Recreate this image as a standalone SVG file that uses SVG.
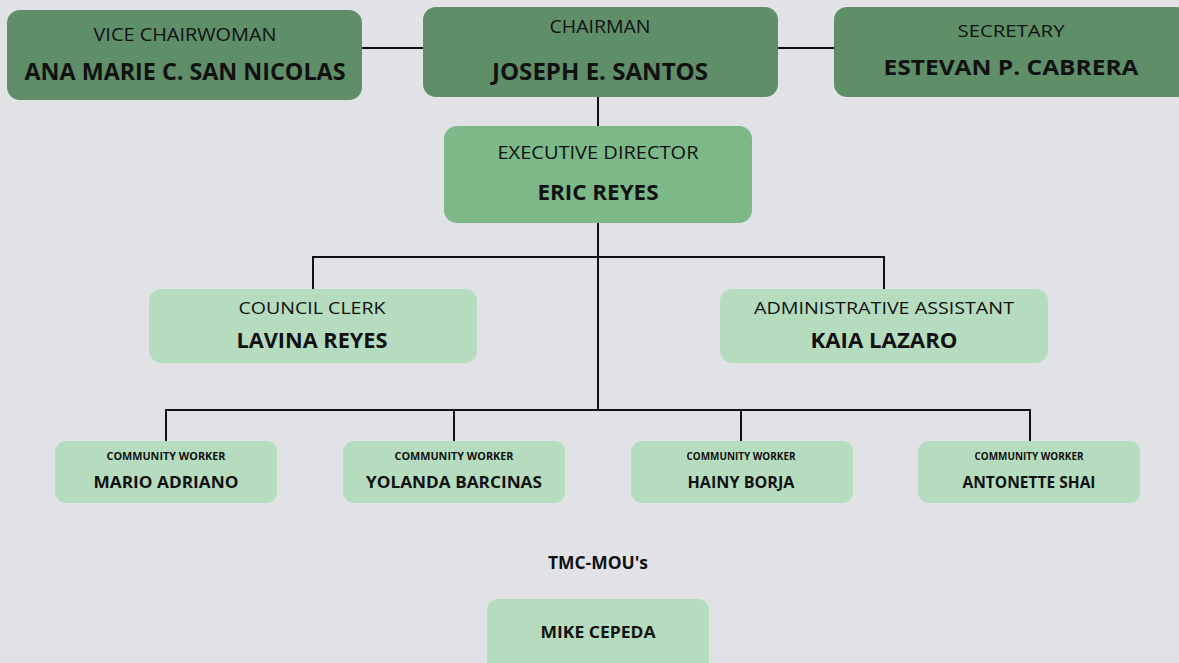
<svg xmlns="http://www.w3.org/2000/svg" width="1179" height="663" viewBox="0 0 1179 663">
<style>
.bg{fill:#e1e2e6}
.dark{fill:#5f8f69}
.mid{fill:#7db889}
.light{fill:#b6dcbf}
text{font-family:"Open Sans","Noto Sans","Liberation Sans",sans-serif;fill:#111;text-anchor:middle}
.t{font-weight:500}
.n{font-weight:700}
.conn{stroke:#111;stroke-width:2;fill:none}
</style>
<rect class="bg" x="0" y="0" width="1179" height="663"/>
<g id="connectors">
<path class="conn" d="M362 48H423M778 48H834"/>
<path class="conn" d="M598 97V126"/>
<path class="conn" d="M598 223V410"/>
<path class="conn" d="M313 289V257H884V289"/>
<path class="conn" d="M166 441V410H1030V441M454 410V441M741 410V441"/>
</g>
<g id="vice-chairwoman">
<rect class="dark" x="7" y="10" width="355" height="90" rx="13"/>
<text class="t" x="185" y="41" font-size="18" textLength="183" lengthAdjust="spacingAndGlyphs">VICE CHAIRWOMAN</text>
<text class="n" x="185" y="80" font-size="23" textLength="321" lengthAdjust="spacingAndGlyphs">ANA MARIE C. SAN NICOLAS</text>
</g>
<g id="chairman">
<rect class="dark" x="423" y="7" width="355" height="90" rx="13"/>
<text class="t" x="600" y="33" font-size="18" textLength="101" lengthAdjust="spacingAndGlyphs">CHAIRMAN</text>
<text class="n" x="600" y="80" font-size="23" textLength="216" lengthAdjust="spacingAndGlyphs">JOSEPH E. SANTOS</text>
</g>
<g id="secretary">
<rect class="dark" x="834" y="7" width="355" height="90" rx="13"/>
<text class="t" x="1011" y="37" font-size="16" textLength="107" lengthAdjust="spacingAndGlyphs">SECRETARY</text>
<text class="n" x="1011" y="75" font-size="22" textLength="255" lengthAdjust="spacingAndGlyphs">ESTEVAN P. CABRERA</text>
</g>
<g id="executive-director">
<rect class="mid" x="444" y="126" width="308" height="97" rx="13"/>
<text class="t" x="598" y="159" font-size="18" textLength="201" lengthAdjust="spacingAndGlyphs">EXECUTIVE DIRECTOR</text>
<text class="n" x="598" y="200" font-size="21" textLength="121" lengthAdjust="spacingAndGlyphs">ERIC REYES</text>
</g>
<g id="council-clerk">
<rect class="light" x="149" y="289" width="328" height="74" rx="12"/>
<text class="t" x="312" y="314" font-size="17" textLength="147" lengthAdjust="spacingAndGlyphs">COUNCIL CLERK</text>
<text class="n" x="312" y="348" font-size="21" textLength="151" lengthAdjust="spacingAndGlyphs">LAVINA REYES</text>
</g>
<g id="administrative-assistant">
<rect class="light" x="720" y="289" width="328" height="74" rx="12"/>
<text class="t" x="884" y="314" font-size="17" textLength="260" lengthAdjust="spacingAndGlyphs">ADMINISTRATIVE ASSISTANT</text>
<text class="n" x="884" y="348" font-size="21" textLength="147" lengthAdjust="spacingAndGlyphs">KAIA LAZARO</text>
</g>
<g id="cw-mario">
<rect class="light" x="55" y="441" width="222" height="62" rx="11"/>
<text class="n" x="166" y="460" font-size="10" textLength="119" lengthAdjust="spacingAndGlyphs">COMMUNITY WORKER</text>
<text class="n" x="166" y="488" font-size="16.5" textLength="145" lengthAdjust="spacingAndGlyphs">MARIO ADRIANO</text>
</g>
<g id="cw-yolanda">
<rect class="light" x="343" y="441" width="222" height="62" rx="11"/>
<text class="n" x="454" y="460" font-size="10" textLength="119" lengthAdjust="spacingAndGlyphs">COMMUNITY WORKER</text>
<text class="n" x="454" y="488" font-size="16.5" textLength="176" lengthAdjust="spacingAndGlyphs">YOLANDA BARCINAS</text>
</g>
<g id="cw-hainy">
<rect class="light" x="631" y="441" width="222" height="62" rx="11"/>
<text class="n" x="741" y="460" font-size="10" textLength="109" lengthAdjust="spacingAndGlyphs">COMMUNITY WORKER</text>
<text class="n" x="741" y="488" font-size="16.5" textLength="107" lengthAdjust="spacingAndGlyphs">HAINY BORJA</text>
</g>
<g id="cw-antonette">
<rect class="light" x="918" y="441" width="222" height="62" rx="11"/>
<text class="n" x="1029" y="460" font-size="10" textLength="109" lengthAdjust="spacingAndGlyphs">COMMUNITY WORKER</text>
<text class="n" x="1029" y="488" font-size="16.5" textLength="133" lengthAdjust="spacingAndGlyphs">ANTONETTE SHAI</text>
</g>
<text class="n" x="598" y="569" font-size="17" textLength="100" lengthAdjust="spacingAndGlyphs">TMC-MOU's</text>
<g id="mike-cepeda">
<rect class="light" x="487" y="599" width="222" height="74" rx="11"/>
<text class="n" x="598" y="638" font-size="16" textLength="115" lengthAdjust="spacingAndGlyphs">MIKE CEPEDA</text>
</g>
</svg>
